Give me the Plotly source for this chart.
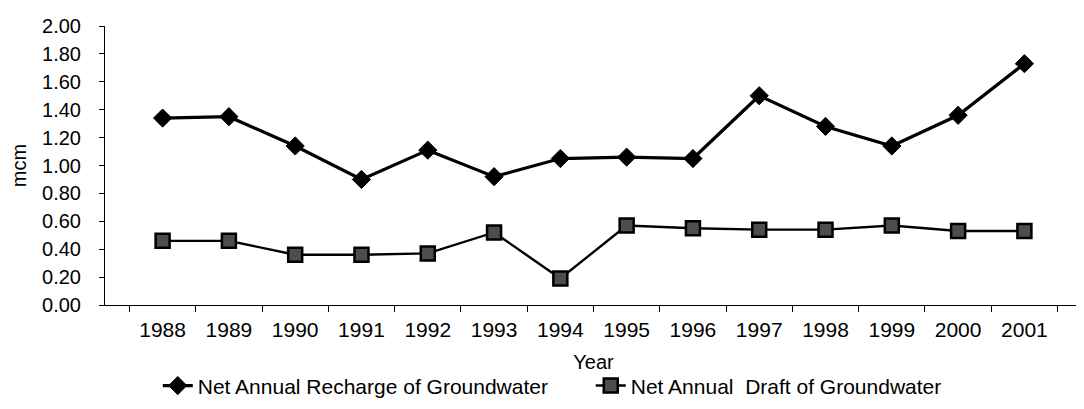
import plotly.graph_objects as go

years = ["1988", "1989", "1990", "1991", "1992", "1993", "1994",
         "1995", "1996", "1997", "1998", "1999", "2000", "2001"]
recharge = [1.34, 1.35, 1.14, 0.90, 1.11, 0.92, 1.05,
            1.06, 1.05, 1.50, 1.28, 1.14, 1.36, 1.73]
draft = [0.46, 0.46, 0.36, 0.36, 0.37, 0.52, 0.19,
         0.57, 0.55, 0.54, 0.54, 0.57, 0.53, 0.53]
y_ticks = [0.0, 0.2, 0.4, 0.6, 0.8, 1.0, 1.2, 1.4, 1.6, 1.8, 2.0]

FONT = "Liberation Sans, Arial, sans-serif"

fig = go.Figure()
fig.add_trace(go.Scatter(
    x=years, y=recharge, mode="lines+markers",
    name="Net Annual Recharge of Groundwater",
    line=dict(color="black", width=3.2),
    marker=dict(symbol="diamond", size=14, color="black",
                line=dict(color="black", width=1)),
))
fig.add_trace(go.Scatter(
    x=years, y=draft, mode="lines+markers",
    name="Net Annual\u00a0 Draft of Groundwater",
    line=dict(color="black", width=2.4),
    marker=dict(symbol="square", size=14, color="#4d4d4d",
                line=dict(color="black", width=2.5)),
))

fig.update_layout(
    width=1084, height=409,
    margin=dict(l=97, r=10, t=18, b=105),
    paper_bgcolor="white", plot_bgcolor="white",
    font=dict(family=FONT, size=20, color="black"),
    showlegend=True,
    legend=dict(orientation="h", x=0.054, y=-0.29, xanchor="left",
                yanchor="middle", font=dict(size=21), bgcolor="rgba(0,0,0,0)",
                entrywidth=388, entrywidthmode="pixels"),
)
fig.update_xaxes(
    type="category", showline=True, linecolor="black", linewidth=1,
    ticks="outside", tickson="boundaries", ticklen=6, tickcolor="black",
    showgrid=False, zeroline=False, ticklabelstandoff=6,
    tickfont=dict(size=21),
    title=dict(text="Year", standoff=14, font=dict(size=20)),
    automargin=False,
)
fig.update_yaxes(
    range=[0, 2], tickvals=y_ticks, tickformat=".2f",
    showline=True, linecolor="black", linewidth=1,
    ticks="outside", ticklen=5, tickcolor="black",
    showgrid=False, zeroline=False, ticklabelstandoff=14,
    title=dict(text="mcm", standoff=10, font=dict(size=20)),
    automargin=False,
)

fig.write_html("out.html")
